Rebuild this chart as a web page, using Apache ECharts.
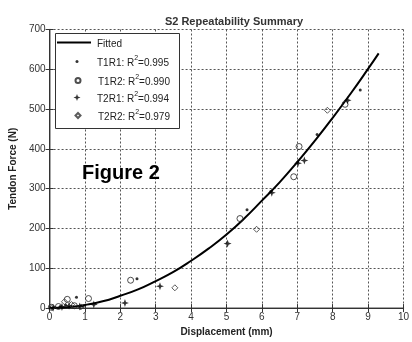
<!DOCTYPE html>
<html>
<head>
<meta charset="utf-8">
<script src="https://cdn.jsdelivr.net/npm/echarts@6/dist/echarts.min.js"></script>
<style>html,body{margin:0;padding:0;background:#fff}#c{width:412px;height:342px}</style>
</head>
<body>
<div id="c"></div>
<script>
// ---- data ----
var xTicks = [0,1,2,3,4,5,6,7,8,9,10];
var yTicks = [0,100,200,300,400,500,600,700];
var fittedCurve = [[0,0],[0.5,2],[1,8],[1.5,17],[2,31],[2.5,47],[3,68],[3.5,91],[4,119],[4.5,150],[5,185],[5.5,225],[6,270],[6.5,316],[7,367],[7.5,421],[8,478],[8.5,538],[9,601],[9.3,640]];
var t1r1 = [[0.02,1],[0.15,2],[0.3,4],[0.45,8],[0.76,27],[0.95,5],[2.47,74],[5.58,247],[6.25,293],[7.0,366],[7.56,436],[8.78,548]];
var t1r2 = [[0.05,2],[0.25,4],[0.5,22],[0.7,6],[1.1,24],[2.29,70],[5.38,225],[6.9,330],[7.05,406],[8.35,512]];
var t2r1 = [[0.1,1],[0.35,3],[0.55,6],[0.85,4],[1.25,9],[2.13,13],[3.12,55],[5.03,162],[6.28,290],[7.02,364],[7.2,371],[8.42,522]];
var t2r2 = [[0.08,2],[0.42,16],[0.62,9],[0.88,3],[3.54,51],[5.85,198],[7.85,497]];
var seriesNames = ['Fitted','T1R1','T1R2','T2R1','T2R2'];
var rSquared = [null,'0.995','0.990','0.994','0.979'];

var FONT = 'Liberation Sans, Arial, sans-serif';
var starPath = 'path://M0,-10 L2.6,-2.6 L10,0 L2.6,2.6 L0,10 L-2.6,2.6 L-10,0 L-2.6,-2.6 Z';
var diamondPath = 'path://M0,-10 L10,0 L0,10 L-10,0 Z';

function legendFmt(name){
  var i = seriesNames.indexOf(name);
  if (!rSquared[i]) return '{a|' + name + '}';
  return '{a|' + name + ': R}{s|2}{a|=' + rSquared[i] + '}';
}
var legendRich = {
  a: {fontSize: 10, fontFamily: FONT, color: '#222', lineHeight: 13, verticalAlign: 'bottom'},
  s: {fontSize: 7, fontFamily: FONT, color: '#222', lineHeight: 13, verticalAlign: 'top'}
};
var legendTops = [39, 55, 74, 91, 109];
var legendIconH = [2, 3, 5, 7, 5];
var legends = seriesNames.map(function(n, i){
  var h = legendIconH[i];
  var isLine = i === 0;
  return {
    data: [isLine ? {name: n, icon: 'rect', itemStyle: {color: '#000'}} : n],
    left: isLine ? 57 : 77 - h / 2, top: legendTops[i], orient: 'vertical', z: 10,
    itemWidth: isLine ? 34 : h, itemHeight: h, itemGap: 0, padding: 0,
    selectedMode: false, formatter: legendFmt,
    textStyle: {rich: legendRich, padding: [0, 0, 0, isLine ? 1 : 15 - h / 2]}
  };
});

var chart = echarts.init(document.getElementById('c'), null, {renderer: 'canvas'});
var axisLabelStyle = {fontSize: 10, fontFamily: FONT, color: '#333'};
chart.setOption({
  animation: false,
  backgroundColor: '#fff',
  title: {
    text: 'S2 Repeatability Summary', left: 229, top: 11, textAlign: 'center',
    textStyle: {fontSize: 11, fontWeight: 'bold', fontFamily: FONT, color: '#333'}
  },
  grid: {left: 48, right: 2, top: 29.5, bottom: 29, containLabel: false},
  legend: legends,
  xAxis: [{
    type: 'value', min: 0, max: 10, interval: 1,
    name: 'Displacement (mm)', nameLocation: 'middle', nameGap: 17,
    nameTextStyle: {fontSize: 10, fontWeight: 'bold', fontFamily: FONT, color: '#222'},
    axisLine: {show: true, lineStyle: {color: '#888', width: 1.5}},
    axisTick: {show: true, inside: true, length: 4, lineStyle: {color: '#333'}},
    axisLabel: Object.assign({margin: 4, formatter: function(v){return xTicks.indexOf(v) >= 0 ? String(v) : '';}}, axisLabelStyle),
    splitLine: {show: true, lineStyle: {color: '#555', type: [2,2], width: 1}}
  },{
    type: 'value', min: 0, max: 10, interval: 1, position: 'top',
    axisLine: {show: true, lineStyle: {color: '#333', width: 1}},
    axisTick: {show: true, inside: true, length: 4, lineStyle: {color: '#333'}},
    axisLabel: {show: false}, splitLine: {show: false}
  }],
  yAxis: [{
    type: 'value', min: 0, max: 700, interval: 100,
    name: 'Tendon Force (N)', nameLocation: 'middle', nameGap: 28, nameRotate: 90,
    nameTextStyle: {fontSize: 10, fontWeight: 'bold', fontFamily: FONT, color: '#222'},
    axisLine: {show: true, lineStyle: {color: '#888', width: 1.5}},
    axisTick: {show: true, inside: true, length: 4, lineStyle: {color: '#333'}},
    axisLabel: Object.assign({margin: 4, formatter: function(v){return yTicks.indexOf(v) >= 0 ? String(v) : '';}}, axisLabelStyle),
    splitLine: {show: true, lineStyle: {color: '#555', type: [2,2], width: 1}}
  },{
    type: 'value', min: 0, max: 700, interval: 100, position: 'right',
    axisLine: {show: true, lineStyle: {color: '#333', width: 1}},
    axisTick: {show: true, inside: true, length: 4, lineStyle: {color: '#333'}},
    axisLabel: {show: false}, splitLine: {show: false}
  }],
  series: [
    {name: 'Fitted', type: 'line', data: fittedCurve, smooth: true, showSymbol: false, symbol: 'none',
     lineStyle: {color: '#000', width: 2}, itemStyle: {color: '#000'}, z: 3},
    {name: 'T1R1', type: 'scatter', data: t1r1, symbol: 'circle', symbolSize: 3,
     itemStyle: {color: '#000'}, z: 4},
    {name: 'T1R2', type: 'scatter', data: t1r2, symbol: 'circle', symbolSize: 6,
     itemStyle: {color: 'rgba(255,255,255,0)', borderColor: '#222', borderWidth: 1}, z: 4},
    {name: 'T2R1', type: 'scatter', data: t2r1, symbol: starPath, symbolSize: 8,
     itemStyle: {color: '#000'}, z: 4},
    {name: 'T2R2', type: 'scatter', data: t2r2, symbol: diamondPath, symbolSize: 6,
     itemStyle: {color: 'rgba(255,255,255,0)', borderColor: '#333', borderWidth: 1}, z: 4}
  ],
  graphic: [
    {type: 'rect', shape: {x: 55.5, y: 33.5, width: 124, height: 95}, z: 5,
     style: {fill: '#fff', stroke: '#333', lineWidth: 1}},
    {type: 'text', left: 82, top: 163, z: 100,
     style: {text: 'Figure 2', fontSize: 20, fontWeight: 'bold', fontFamily: FONT, fill: '#000'}}
  ]
});
</script>
</body>
</html>
